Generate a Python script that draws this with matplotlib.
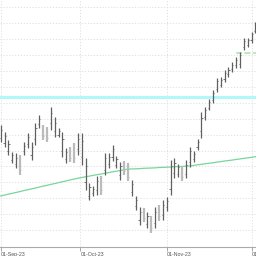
import numpy as np
import pandas as pd
import matplotlib
matplotlib.use("Agg")
import matplotlib.pyplot as plt

# daily bars, weekdays from 01-Sep-23
dates = pd.bdate_range("2023-09-01", periods=67)

highs = [46.60, 46.16, 45.66, 44.91, 44.84, 44.72, 45.53, 46.10, 45.53, 46.73,
         47.23, 46.60, 46.48, 47.74, 47.11, 46.42, 46.16, 45.16, 45.22, 45.47,
         46.10, 46.10, 44.53, 42.96, 42.77, 43.40, 43.40, 44.84, 44.84, 45.35,
         44.65, 44.28, 44.34, 44.21, 43.14, 42.14, 41.45, 41.38, 41.13, 40.88,
         41.45, 41.57, 41.89, 42.08, 44.40, 44.53, 44.15, 44.03, 44.40, 45.22,
         44.97, 45.72, 47.42, 47.74, 48.24, 48.81, 49.56, 49.62, 50.06, 50.25,
         50.57, 50.88, 51.19, 52.08, 52.08, 52.45, 53.08]
lows = [45.53, 45.22, 44.72, 44.21, 43.90, 43.46, 44.72, 45.16, 44.40, 45.35,
        46.42, 45.66, 45.53, 46.29, 45.85, 45.85, 44.59, 44.21, 44.28, 44.21,
        44.72, 44.09, 42.52, 41.89, 42.14, 42.20, 42.20, 43.46, 43.90, 44.34,
        43.90, 43.14, 43.46, 43.08, 42.14, 41.26, 40.31, 40.50, 40.13, 39.81,
        40.13, 40.57, 40.63, 41.19, 42.20, 43.27, 43.33, 43.08, 43.27, 43.96,
        44.28, 45.03, 45.79, 46.92, 47.55, 47.99, 48.68, 48.99, 49.31, 49.62,
        49.94, 50.19, 50.19, 51.32, 51.51, 51.76, 52.39]
opens = [45.80, 45.50, 44.95, 44.40, 44.15, 44.40, 44.95, 45.40, 44.70, 45.70,
         46.65, 46.35, 46.20, 46.70, 46.20, 46.00, 45.00, 44.45, 45.00, 45.15,
         45.10, 44.60, 43.00, 42.15, 42.30, 42.50, 43.10, 43.80, 44.15, 44.60,
         44.10, 43.45, 44.10, 43.90, 42.40, 41.50, 40.60, 41.15, 40.40, 40.60,
         40.45, 41.30, 40.95, 41.45, 42.60, 43.60, 43.55, 43.80, 43.55, 44.30,
         44.45, 45.20, 46.20, 47.10, 47.70, 48.20, 48.90, 49.15, 49.50, 49.80,
         50.10, 50.35, 50.45, 51.50, 51.65, 51.95, 52.55]
closes = [46.30, 45.90, 45.40, 44.70, 44.55, 43.80, 45.30, 45.85, 45.20, 46.40,
          47.00, 45.90, 45.80, 47.35, 46.75, 46.25, 45.75, 44.90, 44.55, 44.50,
          45.70, 45.60, 44.00, 42.70, 42.60, 43.10, 42.50, 44.50, 44.60, 45.10,
          44.45, 44.00, 43.70, 43.35, 42.90, 41.90, 41.15, 40.75, 40.85, 40.10,
          41.15, 40.85, 41.55, 41.85, 44.00, 44.20, 43.95, 43.35, 44.10, 44.95,
          44.80, 45.55, 47.05, 47.55, 48.05, 48.60, 49.35, 49.45, 49.85, 50.05,
          50.40, 50.70, 51.00, 51.90, 51.95, 52.30, 52.90]
moving_avg = [42.14, 42.20, 42.25, 42.31, 42.36, 42.42, 42.48, 42.53, 42.59, 42.64,
              42.70, 42.76, 42.81, 42.87, 42.92, 42.98, 43.04, 43.09, 43.15, 43.20,
              43.26, 43.30, 43.35, 43.39, 43.44, 43.48, 43.52, 43.57, 43.61, 43.66,
              43.70, 43.74, 43.79, 43.83, 43.84, 43.85, 43.86, 43.88, 43.89, 43.90,
              43.91, 43.93, 43.94, 43.95, 43.96, 43.98, 43.99, 44.00, 44.02, 44.03,
              44.06, 44.10, 44.13, 44.17, 44.20, 44.23, 44.27, 44.30, 44.34, 44.37,
              44.40, 44.44, 44.47, 44.51, 44.54, 44.57, 44.61]

resistance = 48.36       # cyan level
target = 51.13           # short green dashed level
target_from = 61         # bar index where it starts
tick_dates = ["2023-09-01", "2023-10-01", "2023-11-01", "2023-12-01"]
tick_labels = ["01-Sep-23", "01-Oct-23", "01-Nov-23", "01-Dec-23"]

x = np.arange(len(dates))
o, h, l, c = map(np.array, (opens, highs, lows, closes))
up = c >= o

fig = plt.figure(figsize=(2.56, 2.56), dpi=100)
ax = fig.add_axes([0, 9 / 256, 1, 247 / 256])

ax.set_xlim(-0.18, 66.14)
ax.set_ylim(38.93, 54.47)

# grid
ax.set_yticks(np.arange(40, 55, 1.0))
date_num = dates.values.astype("datetime64[D]").astype(float)
tick_num = pd.to_datetime(tick_dates).values.astype("datetime64[D]").astype(float)
ax.set_xticks(np.interp(tick_num, date_num, x))
ax.set_xticklabels(tick_labels, ha="left", fontsize=3.8,
                   family=["Liberation Sans", "DejaVu Sans"], color="#555555")
ax.grid(True, color="#dddddd", linestyle=(0, (1.5, 2)), linewidth=0.6)
ax.set_axisbelow(True)
ax.tick_params(axis="y", length=0, labelleft=False)
ax.tick_params(axis="x", length=3, width=0.6, color="#999999", pad=0.3)
for s in ("left", "top", "right"):
    ax.spines[s].set_visible(False)
ax.spines["bottom"].set_color("#aaaaaa")
ax.spines["bottom"].set_linewidth(0.8)

# levels
ax.axhline(resistance, color="#b2f7f9", linewidth=2.2, zorder=1)
ax.plot(x, moving_avg, color="#78d69b", linewidth=0.9, zorder=2)
ax.hlines(target, target_from, x[-1] + 1, color="#b0deb0", linewidth=1.1,
          linestyles=(0, (4, 1.5)), zorder=2)

# OHLC bars
w = 0.3
for up_flag, col, lw in ((False, "#bbbbbb", 1.6), (True, "#606060", 0.9)):
    m = up == up_flag
    ax.vlines(x[m], l[m], h[m], color=col, linewidth=lw, zorder=3)
    ax.hlines(o[m], x[m] - w, x[m], color=col, linewidth=0.6, zorder=3)
    ax.hlines(c[m], x[m], x[m] + w, color=col, linewidth=0.6, zorder=3)

fig.savefig("out.png", dpi=100, facecolor="white")
